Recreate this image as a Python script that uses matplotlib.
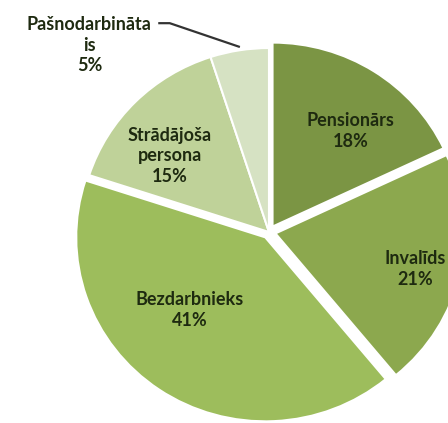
import matplotlib
matplotlib.use('Agg')
import matplotlib.pyplot as plt
import numpy as np

# data
categories = ['Pensionārs', 'Invalīds', 'Bezdarbnieks', 'Strādājoša\npersona', 'Pašnodarbināta\nis']
shares = [18, 21, 41, 15, 5]
colors = ['#7B9544', '#8CA84E', '#9DBD5C', '#BFD299', '#D6E2C3']
explode = [0.035, 0.035, 0.035, 0.0, 0.0]

# label placement (data units, pie radius = 1)
label_pos = [(0.43, 0.55), (0.775, -0.20), (-0.42, -0.425), (-0.525, 0.415), (-0.95, 1.015)]

plt.rcParams['font.family'] = ['Lato', 'DejaVu Sans']

fig = plt.figure(figsize=(4.48, 4.23), dpi=100)
ax = fig.add_axes([0, 0, 1, 1])

wedges, _ = ax.pie(shares, colors=colors, explode=explode, startangle=90,
                   counterclock=False,
                   wedgeprops=dict(edgecolor='white', linewidth=1.5))

for i, (cat, val) in enumerate(zip(categories, shares)):
    x, y = label_pos[i]
    ax.text(x, y, f'{cat}\n{val}%', ha='center', va='center', fontsize=13,
            fontweight='bold', color='#1E2A10', linespacing=1.25, clip_on=True)

# leader line for the small slice
w = wedges[-1]
mid = np.deg2rad((w.theta1 + w.theta2) / 2)
ax.plot([-0.58, -0.525, np.cos(mid) * 1.02], [1.135, 1.135, np.sin(mid) * 1.02],
        color='#333333', lw=1.6)

ax.set_aspect('auto')
ax.set_xlim(-1.423, 0.947)
ax.set_ylim(-1.038, 1.261)
ax.axis('off')

fig.savefig('out.png', dpi=100, facecolor='white')
